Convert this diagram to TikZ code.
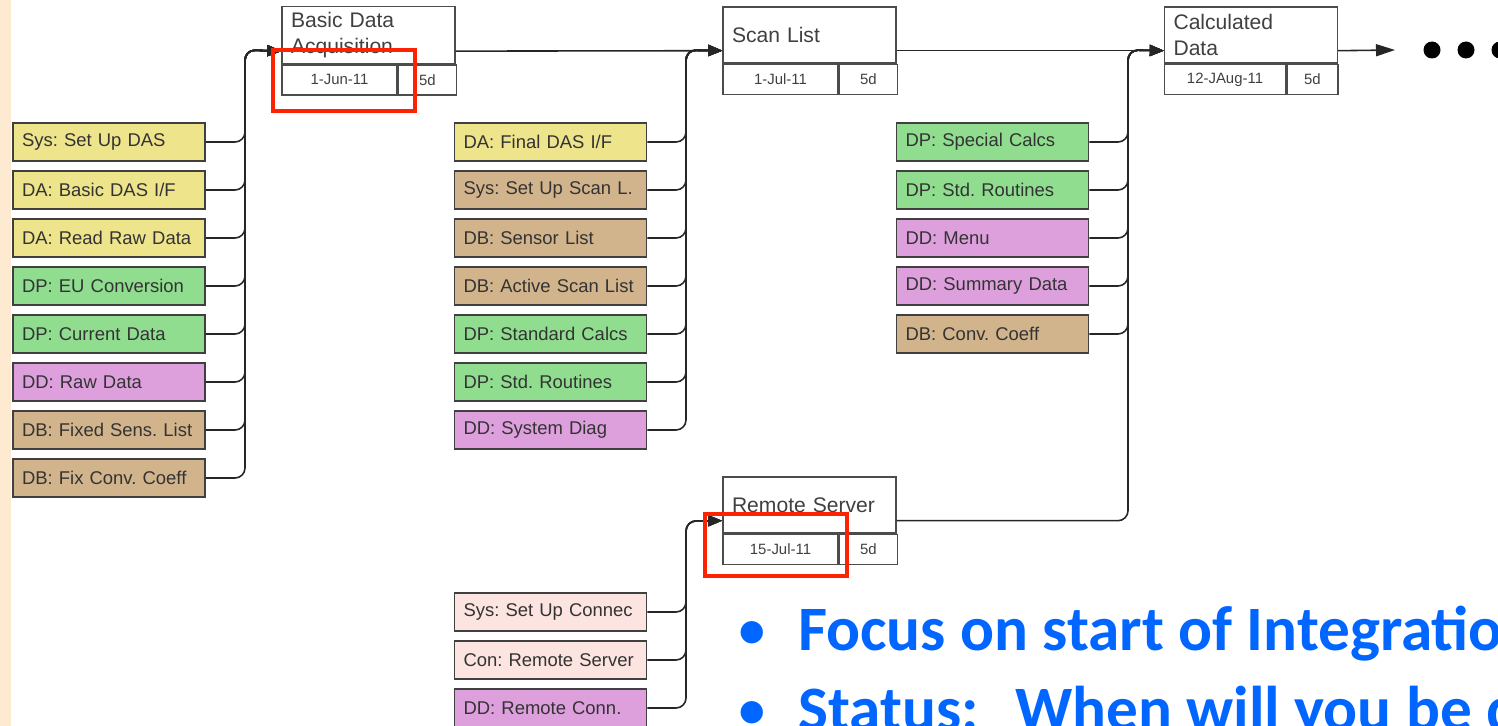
\documentclass[tikz,border=0pt]{standalone}
\usepackage{fontspec}
\setmainfont{Liberation Sans}
\newfontfamily\slidefont{Carlito}
\usetikzlibrary{arrows.meta}
\definecolor{taskyel}{RGB}{238,228,140}
\definecolor{taskgrn}{RGB}{144,221,144}
\definecolor{taskplm}{RGB}{221,160,221}
\definecolor{tasktan}{RGB}{210,180,140}
\definecolor{taskpnk}{RGB}{252,228,224}
\definecolor{slideblue}{RGB}{0,102,255}
\definecolor{slidebeige}{RGB}{253,234,208}
\definecolor{markred}{RGB}{255,34,0}
\frenchspacing

\begin{document}
\begin{tikzpicture}[x=0.02cm,y=-0.02cm,
  task/.style={draw=black!75,line width=1pt,text width=3.48cm,inner xsep=0.18cm,
    minimum height=0.76cm,align=left,text=black!80,font=\fontsize{10.5}{12}\selectfont},
  phase/.style={draw=black!70,line width=0.8pt,text width=3.1cm,inner xsep=0.18cm,
    minimum height=1.12cm,align=left,text=black!75,font=\fontsize{12}{14.5}\selectfont},
  cell/.style={draw=black!70,line width=0.8pt,minimum height=0.6cm,inner sep=0pt,
    anchor=north west,text=black!75,font=\fontsize{8.5}{10}\selectfont},
  link/.style={line width=0.9pt,black!85,rounded corners=0.2cm,
    -{Triangle[length=0.28cm,width=0.22cm]}},
  redbox/.style={draw=markred,line width=2.2pt},
  bigdot/.style={circle,fill=black,inner sep=0pt,minimum size=0.34cm},
  point/.style={text=slideblue,anchor=base west,font=\slidefont\bfseries\fontsize{36}{43}\selectfont}]
\useasboundingbox (0,0) rectangle (1498,726);
\clip (0,0) rectangle (1498,726);
\fill[slidebeige] (0,0) rectangle (11,726);

% milestones
\node[phase] (bda) at (368.5,35) {Basic Data\\Acquisition};
\node[cell,minimum width=2.3cm] (bdadate) at (bda.south west) {1-Jun-11};
\node[cell,minimum width=1.16cm] (bdadur) at (bdadate.north east) {5d};
\node[phase] (scl) at (809.5,35) {Scan List};
\node[cell,minimum width=2.3cm] (scldate) at (scl.south west) {1-Jul-11};
\node[cell,minimum width=1.16cm] (scldur) at (scldate.north east) {5d};
\node[phase] (cdat) at (1251,35) {Calculated\\Data};
\node[cell,minimum width=2.42cm] (cdatdate) at (cdat.south west) {12-JAug-11};
\node[cell,minimum width=1.02cm] (cdatdur) at (cdatdate.north east) {5d};
\node[phase] (rsrv) at (809.5,505) {Remote Server};
\node[cell,minimum width=2.3cm] (rsrvdate) at (rsrv.south west) {15-Jul-11};
\node[cell,minimum width=1.16cm] (rsrvdur) at (rsrvdate.north east) {5d};

\coordinate (bdain) at ([yshift=0.26cm]bda.south west);
\coordinate (bdaout) at ([yshift=0.26cm]bda.south east);
\coordinate (sclin) at ([yshift=0.26cm]scl.south west);
\coordinate (sclout) at ([yshift=0.26cm]scl.south east);
\coordinate (cdatin) at ([yshift=0.26cm]cdat.south west);
\coordinate (cdatout) at ([yshift=0.26cm]cdat.south east);
\coordinate (rsrvin) at ([yshift=0.26cm]rsrv.south west);
\coordinate (rsrvout) at ([yshift=0.26cm]rsrv.south east);
\coordinate (busa) at (245,50);
\coordinate (busb) at (686,50);
\coordinate (busc) at (1128,50);
\coordinate (busd) at (686,521);
\coordinate (more) at (1395,50);

% tasks
\foreach \n/\c/\l in
  {1/taskyel/{Sys: Set Up DAS},
   2/taskyel/{DA: Basic DAS I/F},
   3/taskyel/{DA: Read Raw Data},
   4/taskgrn/{DP: EU Conversion},
   5/taskgrn/{DP: Current Data},
   6/taskplm/{DD: Raw Data},
   7/tasktan/{DB: Fixed Sens. List},
   8/tasktan/{DB: Fix Conv. Coeff}
  }{
  \node[task,fill=\c] (a\n) at (109,{94+48*\n}) {\l};
  \draw[link] (a\n.east) -| (busa) -- (bdain);
}
\foreach \n/\c/\l in
  {1/taskyel/{DA: Final DAS I/F},
   2/tasktan/{Sys: Set Up Scan L.},
   3/tasktan/{DB: Sensor List},
   4/tasktan/{DB: Active Scan List},
   5/taskgrn/{DP: Standard Calcs},
   6/taskgrn/{DP: Std. Routines},
   7/taskplm/{DD: System Diag}
  }{
  \node[task,fill=\c] (b\n) at (550.5,{94+48*\n}) {\l};
  \draw[link] (b\n.east) -| (busb) -- (sclin);
}
\foreach \n/\c/\l in
  {1/taskgrn/{DP: Special Calcs},
   2/taskgrn/{DP: Std. Routines},
   3/taskplm/{DD: Menu},
   4/taskplm/{DD: Summary Data},
   5/tasktan/{DB: Conv. Coeff}
  }{
  \node[task,fill=\c] (c\n) at (992.5,{94+48*\n}) {\l};
  \draw[link] (c\n.east) -| (busc) -- (cdatin);
}
\foreach \n/\c/\l in
  {1/taskpnk/{Sys: Set Up Connec},
   2/taskpnk/{Con: Remote Server},
   3/taskplm/{DD: Remote Conn.}
  }{
  \node[task,fill=\c] (d\n) at (550.5,{564+48*\n}) {\l};
  \draw[link] (d\n.east) -| (busd) -- (rsrvin);
}

\draw[link] (bdaout) -- (sclin);
\draw[link] (sclout) -- (cdatin);
\draw[link] (rsrvout) -| (busc) -- (cdatin);
\draw[link,-{Triangle[length=0.38cm,width=0.24cm]}] (cdatout) -- (more);
\foreach \x [count=\i] in {1432,1466,1500}
  \node[bigdot] (dot\i) at (\x,50) {};

% highlights
\draw[redbox] (273,50) rectangle (415,111);
\draw[redbox] (705,514) rectangle (847,576);

% slide text
\node[text=slideblue,font=\slidefont\fontsize{36}{43}\selectfont,anchor=base] (blt1) at (752,650) {•};
\node[point] (focus) at (792,650) {Focus on start of Integration};
\node[text=slideblue,font=\slidefont\fontsize{36}{43}\selectfont,anchor=base] (blt2) at (752,730) {•};
\node[point] (status) at (792,730) {Status:\hspace{0.35em} When will you be done};
\end{tikzpicture}
\end{document}
